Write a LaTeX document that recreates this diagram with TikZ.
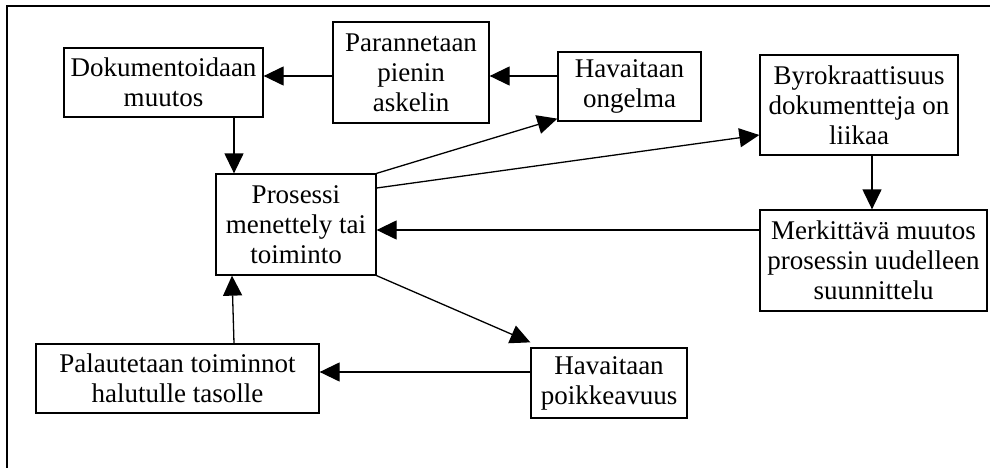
\documentclass[tikz,border=0pt]{standalone}
\usepackage{fontspec}
\setmainfont{Liberation Serif}
\usetikzlibrary{arrows.meta}
\begin{document}
\begin{tikzpicture}[x=1pt,y=-1pt,
  box/.style={draw,line width=1.3pt,inner sep=0pt,align=center,
    font=\fontsize{27}{30}\selectfont},
  arr/.style={line width=1.3pt,-{Triangle[length=20pt,width=19pt]}}]
\useasboundingbox (0,0) rectangle (990,468);
\draw[line width=1.3pt] (7,468) -- (7,6) -- (990,6);
\node[box,minimum width=199pt,minimum height=69pt] (dok) at (163.5,82.5) {Dokumentoidaan\\muutos};
\node[box,minimum width=156pt,minimum height=101pt] (par) at (411,72.5) {Parannetaan\\pienin\\askelin};
\node[box,minimum width=143pt,minimum height=69pt] (hav) at (629.5,86.5) {Havaitaan\\ongelma};
\node[box,minimum width=198pt,minimum height=100pt] (byr) at (859,105) {Byrokraattisuus\\dokumentteja on\\liikaa};
\node[box,minimum width=227pt,minimum height=101pt] (mer) at (873.5,260.5) {Merkittävä muutos\\prosessin uudelleen\\suunnittelu};
\node[box,minimum width=160pt,minimum height=101pt] (pro) at (296,224.5) {Prosessi\\menettely tai\\toiminto};
\node[box,minimum width=283pt,minimum height=69pt] (pal) at (177.5,378.5) {Palautetaan toiminnot\\halutulle tasolle};
\node[box,minimum width=156pt,minimum height=70pt] (poi) at (609,383) {Havaitaan\\poikkeavuus};
\draw[arr] (par.west |- 0,76) -- (dok.east |- 0,76);
\draw[arr] (hav.west |- 0,76) -- (par.east |- 0,76);
\draw[arr] (dok.south -| 234,0) -- (pro.north -| 234,0);
\draw[arr] (pro.north east) -- ([yshift=3pt]hav.south west);
\draw[arr] (pro.east |- 0,188) -- (byr.west |- 0,135);
\draw[arr] (byr.south -| 872,0) -- (mer.north -| 872,0);
\draw[arr] (mer.west |- 0,230) -- (pro.east |- 0,230);
\draw[arr] (pro.south east) -- ([yshift=5pt]poi.north west);
\draw[arr] (poi.west |- 0,372) -- (pal.east |- 0,372);
\draw[arr] (pal.north -| 234,0) -- (pro.south -| 232,0);
\end{tikzpicture}
\end{document}
